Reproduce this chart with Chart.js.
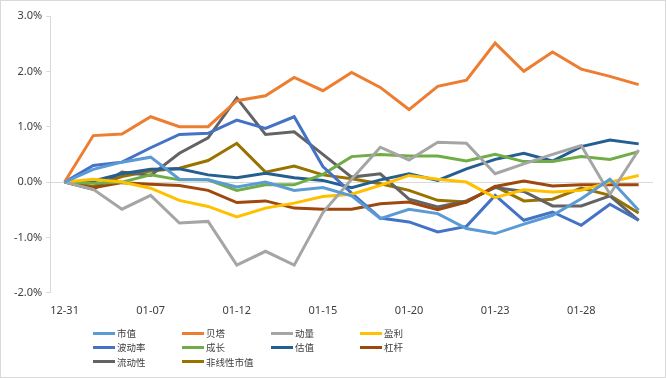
<!DOCTYPE html>
<html>
<head>
<meta charset="utf-8">
<script src="https://cdn.jsdelivr.net/npm/chart.js@4/dist/chart.umd.min.js"></script>
<style>
  html, body { margin: 0; padding: 0; background: #fff; }
  #wrap { position: relative; width: 666px; height: 378px; }
  #frame { position: absolute; left: 0; top: 0; width: 666px; height: 378px;
    box-sizing: border-box; border: 1px solid #d9d9d9; pointer-events: none; }
  #legend { position: absolute; left: 93px; top: 326px;
    display: grid; grid-template-columns: 89px 89px 89px 89px; grid-auto-rows: 14.3px;
    font-family: "Noto Sans CJK SC", sans-serif; font-size: 9.5px; color: #404040; }
  .item { display: flex; align-items: center; white-space: nowrap; }
  .swatch { width: 22px; height: 3px; margin-right: 2px; }
</style>
</head>
<body>
<div id="wrap">
  <canvas id="chart" width="666" height="378"></canvas>
  <div id="legend"></div>
  <div id="frame"></div>
</div>
<script>
// 日期
const dates = ["12-31", "01-04", "01-05", "01-07", "01-08", "01-11", "01-12", "01-13",
  "01-14", "01-15", "01-18", "01-19", "01-20", "01-21", "01-22", "01-23", "01-25",
  "01-26", "01-28", "01-29", "02-01"];

// 各因子累计收益 (%)
const shiZhi = [0, 0.23, 0.36, 0.45, 0.05, 0.04, -0.09, 0.0, -0.15, -0.1, -0.25,
  -0.66, -0.49, -0.57, -0.84, -0.93, -0.76, -0.6, -0.3, 0.05, -0.51];
const beiTa = [0, 0.84, 0.87, 1.18, 1.0, 1.0, 1.47, 1.56, 1.89, 1.65, 1.98,
  1.71, 1.31, 1.73, 1.84, 2.51, 2.0, 2.35, 2.04, 1.91, 1.76];
const dongLiang = [0, -0.13, -0.49, -0.24, -0.74, -0.71, -1.5, -1.25, -1.5, -0.55, 0.05,
  0.63, 0.4, 0.72, 0.7, 0.15, 0.33, 0.5, 0.66, -0.22, 0.58];
const yingLi = [0, 0.05, 0.0, -0.11, -0.33, -0.44, -0.63, -0.47, -0.38, -0.26, -0.22,
  -0.06, 0.12, 0.05, 0.0, -0.28, -0.14, -0.18, -0.15, 0.0, 0.12];
const boDongLv = [0, 0.3, 0.36, 0.62, 0.86, 0.88, 1.12, 0.97, 1.18, 0.28, -0.2,
  -0.65, -0.72, -0.9, -0.8, -0.24, -0.69, -0.54, -0.78, -0.4, -0.69];
const chengZhang = [0, -0.02, 0.0, 0.13, 0.04, 0.04, -0.15, -0.05, -0.05, 0.14, 0.46,
  0.5, 0.47, 0.47, 0.38, 0.5, 0.37, 0.37, 0.46, 0.41, 0.55];
const guZhi = [0, 0.02, 0.15, 0.23, 0.24, 0.13, 0.08, 0.16, 0.08, 0.03, -0.1,
  0.04, 0.15, 0.03, 0.24, 0.41, 0.52, 0.38, 0.64, 0.76, 0.69];
const gangGan = [0, -0.1, -0.01, -0.04, -0.06, -0.15, -0.37, -0.34, -0.47, -0.49, -0.49,
  -0.39, -0.36, -0.5, -0.36, -0.08, 0.02, -0.07, -0.05, -0.05, -0.05];
const liuDongXing = [0, -0.13, 0.18, 0.12, 0.52, 0.8, 1.52, 0.86, 0.91, 0.5, 0.09,
  0.15, -0.31, -0.45, -0.34, -0.1, -0.17, -0.43, -0.43, -0.25, -0.69];
const feiXianXing = [0, -0.08, 0.1, 0.2, 0.25, 0.39, 0.7, 0.18, 0.29, 0.13, 0.06,
  -0.03, -0.15, -0.33, -0.36, -0.08, -0.34, -0.31, -0.11, -0.24, -0.56];

// y轴刻度
const yTicks = [-2, -1, 0, 1, 2, 3];

const seriesNames = ["市值", "贝塔", "动量", "盈利", "波动率", "成长", "估值", "杠杆", "流动性", "非线性市值"];
const seriesData = [shiZhi, beiTa, dongLiang, yingLi, boDongLv, chengZhang, guZhi, gangGan, liuDongXing, feiXianXing];
const seriesColors = ["#5B9BD5", "#ED7D31", "#A5A5A5", "#FFC000", "#4472C4",
  "#70AD47", "#255E91", "#9E480E", "#636363", "#997300"];

const axisFont = { family: "'Noto Sans', 'Noto Sans CJK SC', sans-serif", size: 11 };

const ctx = document.getElementById("chart").getContext("2d");
new Chart(ctx, {
  type: "line",
  data: {
    labels: dates,
    datasets: seriesNames.map((name, i) => ({
      label: name,
      data: seriesData[i],
      borderColor: seriesColors[i],
      backgroundColor: seriesColors[i],
      borderWidth: 3,
      pointRadius: 0,
      tension: 0,
    })),
  },
  options: {
    responsive: false,
    animation: false,
    layout: { padding: { left: 10, right: 13, top: 16, bottom: 58 } },
    plugins: {
      legend: { display: false },
      tooltip: { enabled: false },
    },
    scales: {
      x: {
        offset: true,
        grid: { display: false },
        border: { display: false },
        ticks: {
          autoSkip: false,
          maxRotation: 0,
          padding: 3,
          color: "#404040",
          font: axisFont,
          callback: function (value, index) {
            return index % 3 === 0 ? dates[index] : "";
          },
        },
      },
      y: {
        min: yTicks[0],
        max: yTicks[yTicks.length - 1],
        afterBuildTicks: function (scale) {
          scale.ticks = yTicks.map((v) => ({ value: v }));
        },
        grid: {
          color: (c) => (c.tick && c.tick.value === 0 ? "#d9d9d9" : "rgba(0,0,0,0)"),
          tickColor: "#d9d9d9",
          tickLength: 4,
        },
        border: { display: true, color: "#d9d9d9" },
        ticks: {
          padding: 4,
          color: "#404040",
          font: axisFont,
          callback: (v) => v.toFixed(1) + "%",
        },
      },
    },
  },
});

// 图例
const legend = document.getElementById("legend");
seriesNames.forEach((name, i) => {
  const item = document.createElement("div");
  item.className = "item";
  item.innerHTML = `<span class="swatch" style="background:${seriesColors[i]}"></span><span>${name}</span>`;
  legend.appendChild(item);
});
</script>
</body>
</html>
